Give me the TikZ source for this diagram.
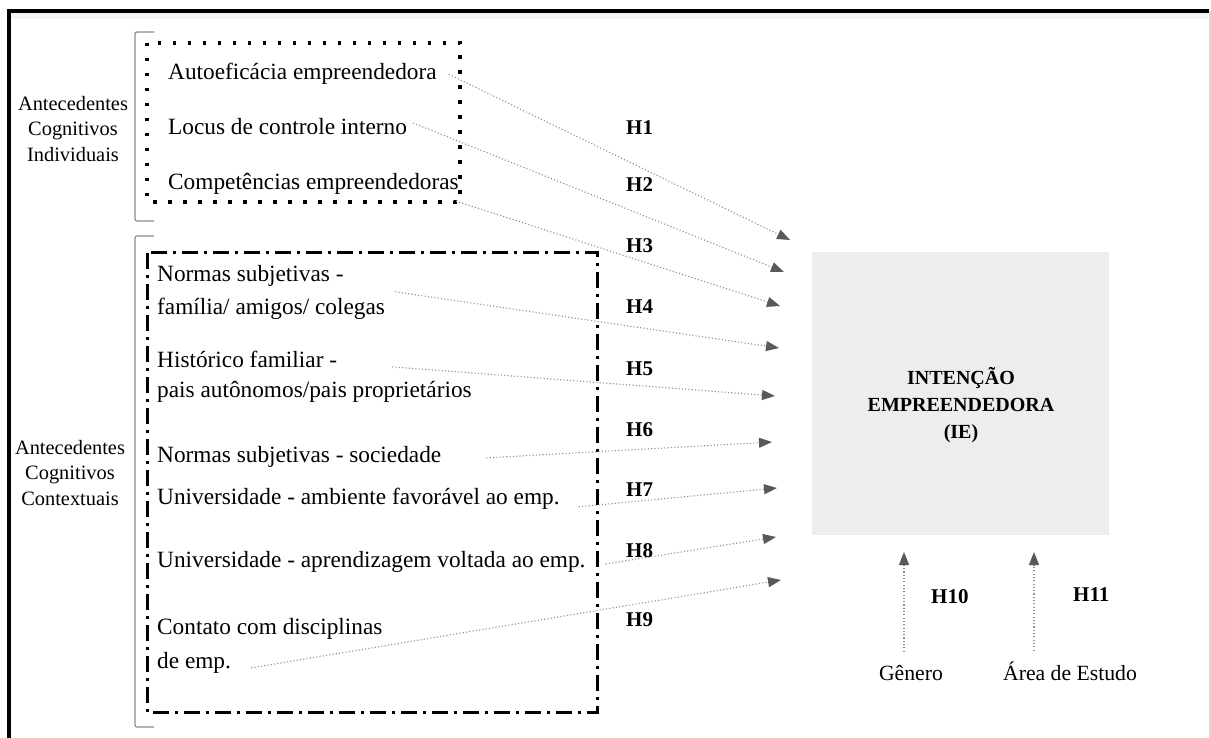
\documentclass[tikz,border=0pt]{standalone}
\usepackage{fontspec}
\setmainfont{Liberation Serif}
\usetikzlibrary{arrows.meta, calc}
\definecolor{tipgray}{HTML}{595959}
\definecolor{linegray}{HTML}{8E8E8E}
\definecolor{boxgray}{HTML}{EDEDED}
\definecolor{bracketgray}{HTML}{8C8C8C}
\tikzset{
	itemnode/.style={
			anchor=base west,
			inner sep=0pt,
			font=\fontsize{23.3}{28}\selectfont
		},
	sidenode/.style={
			align=center,
			inner sep=0pt,
			font=\fontsize{20.4}{25.5}\selectfont
		},
	hypnode/.style={
			anchor=base west,
			inner sep=0pt,
			font=\fontsize{21}{25}\selectfont\bfseries
		},
	lownode/.style={
			anchor=base,
			inner sep=0pt,
			font=\fontsize{21.7}{26}\selectfont
		},
	iebox/.style={
			rectangle,
			draw=none,
			fill=boxgray,
			minimum width=297pt,
			minimum height=282pt,
			inner sep=0pt
		},
	ietext/.style={
			align=center,
			inner sep=0pt,
			font=\fontsize{20}{27}\selectfont\bfseries
		},
	hyparrow/.style={
			draw=linegray,
			line width=1.1pt,
			dash pattern=on 1.1pt off 2.2pt,
			-{Triangle[length=13pt,width=10pt,color=tipgray]}
		},
	dotbox/.style={
			draw=black,
			line width=3.5pt,
			dash pattern=on 3.5pt off 11.5pt
		},
	dashdotbox/.style={
			draw=black,
			line width=3pt,
			dash pattern=on 16pt off 6pt on 3pt off 6pt
		},
	bracketline/.style={
			draw=bracketgray,
			line width=1.2pt,
			rounded corners=2pt
		}
}

\begin{document}
\begin{tikzpicture}[x=1pt, y=-1pt]
\useasboundingbox (0,0) rectangle (1211,738);

\draw[line width=3.5pt] (9,738) -- (9,11) -- (1209,11);
\draw[gray!8, line width=6pt] (11,16) -- (1208,16);
\draw[gray!30, line width=2pt] (1210,11) -- (1210,738);

\draw[bracketline] (154,32) -- (135,32) -- (135,221) -- (154,221);
\draw[bracketline] (154,236) -- (135,236) -- (135,727) -- (154,727);
\draw[dotbox] (147,43) rectangle (460,202);
\draw[dashdotbox] (147,253) rectangle (597,712);

\node[sidenode] (sideInd) at (73,129) {Antecedentes\\Cognitivos\\Individuais};
\node[sidenode] (sideCon) at (70,473) {Antecedentes\\Cognitivos\\Contextuais};

\node[itemnode] (iAuto) at (168,80) {Autoeficácia empreendedora};
\node[itemnode] (iLocus) at (168,135) {Locus de controle interno};
\node[itemnode] (iComp) at (168,190) {Competências empreendedoras};

\node[itemnode] (iNormA) at (157,282) {Normas subjetivas -};
\node[itemnode] (iNormB) at (157,315) {família/ amigos/ colegas};
\node[itemnode] (iHistA) at (157,367) {Histórico familiar -};
\node[itemnode] (iHistB) at (157,397) {pais autônomos/pais proprietários};
\node[itemnode] (iSoc) at (157,462) {Normas subjetivas - sociedade};
\node[itemnode] (iAmb) at (157,504) {Universidade - ambiente favorável ao emp.};
\node[itemnode] (iApr) at (157,567) {Universidade - aprendizagem voltada ao emp.};
\node[itemnode] (iContA) at (157,634) {Contato com disciplinas};
\node[itemnode] (iContB) at (157,668) {de emp.};

\node[iebox] (IE) at (960.5,393.5) {};
\node[ietext] (IEtext) at (961,405) {INTENÇÃO\\EMPREENDEDORA\\(IE)};

\node[lownode] (nGen) at (911,680) {Gênero};
\node[lownode] (nArea) at (1070,680) {Área de Estudo};

\node[hypnode] (h1) at (626,135) {H1};
\node[hypnode] (h2) at (626,192) {H2};
\node[hypnode] (h3) at (626,253) {H3};
\node[hypnode] (h4) at (626,313) {H4};
\node[hypnode] (h5) at (626,375) {H5};
\node[hypnode] (h6) at (626,436) {H6};
\node[hypnode] (h7) at (626,496) {H7};
\node[hypnode] (h8) at (626,557) {H8};
\node[hypnode] (h9) at (626,626) {H9};
\node[hypnode] (h10) at (931,603) {H10};
\node[hypnode] (h11) at (1073,601) {H11};

\coordinate (e1) at (790,240);
\coordinate (e2) at (784,272);
\coordinate (e3) at (780,306);
\coordinate (e4) at (779,348);
\coordinate (e5) at (775,396);
\coordinate (e6) at (772,442);
\coordinate (e7) at (777,488);
\coordinate (e8) at (776,537);
\coordinate (e9) at (781,580);
\coordinate (e10) at (904,552);
\coordinate (e11) at (1034,552);

\draw[hyparrow] ([xshift=12pt]iAuto.east) -- (e1);
\draw[hyparrow] ([xshift=6pt,yshift=4pt]iLocus.east) -- (e2);
\draw[hyparrow] ([xshift=-6pt,yshift=-5pt]iComp.south east) -- (e3);
\draw[hyparrow] ([xshift=10pt,yshift=17.5pt]iNormB.east) -- (e4);
\draw[hyparrow] ([xshift=55pt,yshift=-8pt]iHistA.east) -- (e5);
\draw[hyparrow] ([xshift=45pt,yshift=-1.5pt]iSoc.east) -- (e6);
\draw[hyparrow] ([xshift=19pt,yshift=-8.5pt]iAmb.east) -- (e7);
\draw[hyparrow] ([xshift=20pt,yshift=-2.5pt]iApr.east) -- (e8);
\draw[hyparrow] ([xshift=20pt,yshift=-5.5pt]iContB.east) -- (e9);
\draw[hyparrow] ([xshift=-7pt,yshift=13pt]nGen.north) -- (e10);
\draw[hyparrow] ([xshift=-36pt,yshift=10.5pt]nArea.north) -- (e11);

\end{tikzpicture}
\end{document}
